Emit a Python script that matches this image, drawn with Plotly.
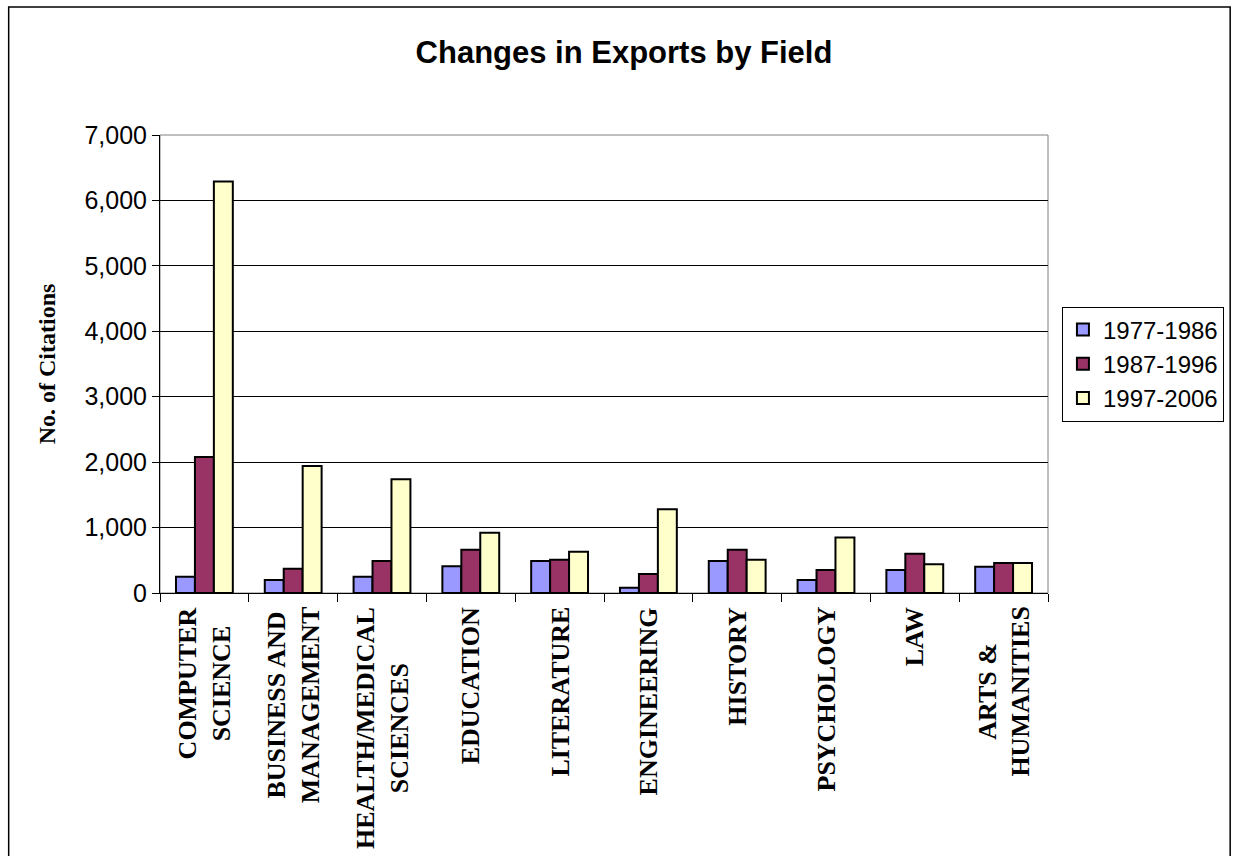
import plotly.graph_objects as go

categories = ["COMPUTER<br>SCIENCE", "BUSINESS AND<br>MANAGEMENT", "HEALTH/MEDICAL<br>SCIENCES",
              "EDUCATION", "LITERATURE", "ENGINEERING", "HISTORY", "PSYCHOLOGY", "LAW",
              "ARTS &<br>HUMANITIES"]
series_names = ["1977-1986", "1987-1996", "1997-2006"]
v1977 = [250, 200, 250, 410, 490, 80, 490, 200, 350, 400]
v1987 = [2080, 370, 490, 660, 510, 290, 660, 350, 600, 460]
v1997 = [6290, 1940, 1740, 920, 630, 1280, 510, 850, 440, 460]
colors = ["#9999FF", "#993366", "#FFFFCC"]
y_ticks = [0, 1000, 2000, 3000, 4000, 5000, 6000, 7000]

fig = go.Figure()
for name, vals, col in zip(series_names, [v1977, v1987, v1997], colors):
    fig.add_trace(go.Bar(x=categories, y=vals, name=name,
                         marker=dict(color=col, line=dict(color="black", width=2))))

L, R, T, B = 160, 184, 135, 263
W, H = 1236 - L - R, 856 - T - B

fig.update_layout(
    width=1236, height=856,
    margin=dict(l=L, r=R, t=T, b=B, pad=0),
    paper_bgcolor="white", plot_bgcolor="white",
    barmode="group", bargap=0.36, bargroupgap=0,
    title=dict(text="<b>Changes in Exports by Field</b>", x=624/1236, xanchor="center",
               y=1 - 52/856, yanchor="middle",
               font=dict(family="Liberation Sans, Arial", size=31, color="black")),
    legend=dict(x=(1066 - L)/W, xanchor="left", y=0.5, yanchor="middle",
                bordercolor="black", borderwidth=1, bgcolor="white",
                font=dict(family="Liberation Sans, Arial", size=24, color="black"),
                itemsizing="constant"),
    showlegend=True,
)
fig.update_xaxes(type="category", showticklabels=False, ticks="outside", tickson="boundaries",
                 ticklen=8, tickcolor="black", showline=True, linecolor="black", linewidth=1,
                 showgrid=False)
fig.update_yaxes(range=[0, 7000], tickvals=y_ticks, tickformat=",", ticks="outside", ticklen=7,
                 tickcolor="black", showline=True, linecolor="black", linewidth=1,
                 showgrid=True, gridcolor="black", gridwidth=1, zeroline=False,
                 tickfont=dict(family="Liberation Sans, Arial", size=25, color="black"),
                 title=dict(text="<b>No. of Citations</b>", standoff=22,
                            font=dict(family="Liberation Serif, Times New Roman", size=24, color="black")))

# plot area border (grey) and outer chart border
fig.add_shape(type="rect", xref="paper", yref="paper", x0=0, x1=1, y0=0, y1=1,
              line=dict(color="#808080", width=1), layer="below")
fig.add_shape(type="rect", xref="paper", yref="paper",
              x0=(8 - L)/W, x1=(1235 - L)/W, y0=-0.7, y1=(593 - 7)/H,
              line=dict(color="black", width=1.5))

for cat in categories:
    fig.add_annotation(x=cat, xref="x", y=(593 - 605)/H, yref="paper", yanchor="top",
                       text="<b>" + cat + "</b>", textangle=-90, showarrow=False, align="center",
                       font=dict(family="Liberation Serif, Times New Roman", size=26, color="black"))

fig.write_html("out.html", config={"displayModeBar": False},
               post_script="document.body.style.margin='0';document.body.style.overflow='hidden';")
